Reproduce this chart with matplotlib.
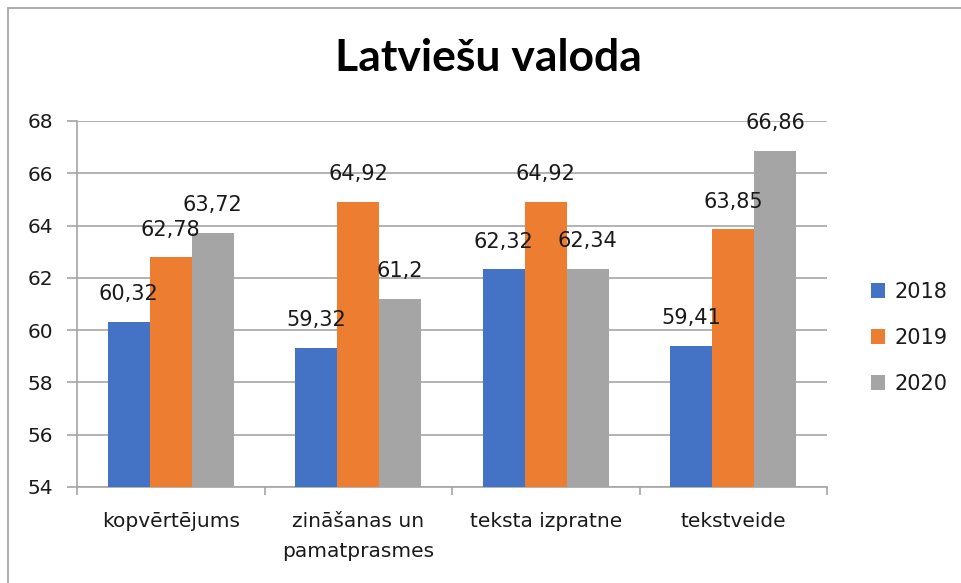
import numpy as np
import matplotlib
matplotlib.use('Agg')
import matplotlib.pyplot as plt
from matplotlib.patches import Rectangle, Patch

categories = ['kopvērtējums', 'zināšanas un\npamatprasmes', 'teksta izpratne', 'tekstveide']
years = ['2018', '2019', '2020']
v2018 = [60.32, 59.32, 62.32, 59.41]
v2019 = [62.78, 64.92, 64.92, 63.85]
v2020 = [63.72, 61.2, 62.34, 66.86]
yticks = [54, 56, 58, 60, 62, 64, 66, 68]

colors = ['#4472C4', '#ED7D31', '#A5A5A5']
grid_col = '#a6a6a6'
txt_col = '#1a1a1a'
plt.rcParams['font.family'] = ['DejaVu Sans']

W, H = 961, 583
fig = plt.figure(figsize=(W / 100, H / 100), dpi=100)
ax = fig.add_axes([77 / W, (H - 487) / H, 750 / W, 366 / H])

# chart border (only top/left visible in the reference)
fig.patches.append(Rectangle((8 / W, -0.1), 1.2, 1 - 8 / H + 0.1, transform=fig.transFigure,
                             fill=False, edgecolor='#a0a0a0', linewidth=1.2))

x = np.arange(len(categories))
w = 0.224
for i, (vals, col) in enumerate(zip([v2018, v2019, v2020], colors)):
    pos = x + (i - 1) * w
    ax.bar(pos, vals, width=w, color=col, zorder=3)
    for px, v in zip(pos, vals):
        ax.annotate(f"{v:g}".replace('.', ','), (px, v), xytext=(0, 20), textcoords='offset points',
                    ha='center', va='center', fontsize=15, color=txt_col, zorder=4)

ax.set_ylim(54, 68)
ax.set_xlim(-0.5, len(categories) - 0.5)
ax.set_yticks(yticks)
ax.yaxis.grid(True, color=grid_col, linewidth=1.2, zorder=0)
ax.set_axisbelow(True)

ax.set_xticks(x)
ax.set_xticklabels(categories, fontsize=14.5, color=txt_col, linespacing=1.75)
ax.set_xticks(np.arange(-0.5, len(categories), 1.0), minor=True)
ax.tick_params(axis='x', which='major', length=0, pad=18)
ax.tick_params(axis='x', which='minor', length=6, color=grid_col, width=1.2)
ax.tick_params(axis='y', length=7, color=grid_col, width=1.2, labelsize=14.5, labelcolor=txt_col, pad=10)

for s in ['top', 'right']:
    ax.spines[s].set_visible(False)
for s in ['left', 'bottom']:
    ax.spines[s].set_color(grid_col)
    ax.spines[s].set_linewidth(1.2)

fig.text(488 / W, 1 - 58 / H, 'Latviešu valoda', ha='center', va='center',
         fontsize=32, fontweight='bold', family='Lato', color='black')

handles = [Patch(facecolor=c, edgecolor='none') for c in colors]
fig.legend(handles, years, loc='center left', bbox_to_anchor=(852 / W, 1 - 338 / H), frameon=False,
           fontsize=15, handlelength=0.7, handleheight=0.7, handletextpad=0.45, labelspacing=1.25,
           labelcolor=txt_col)

fig.savefig('out.png', dpi=100)
